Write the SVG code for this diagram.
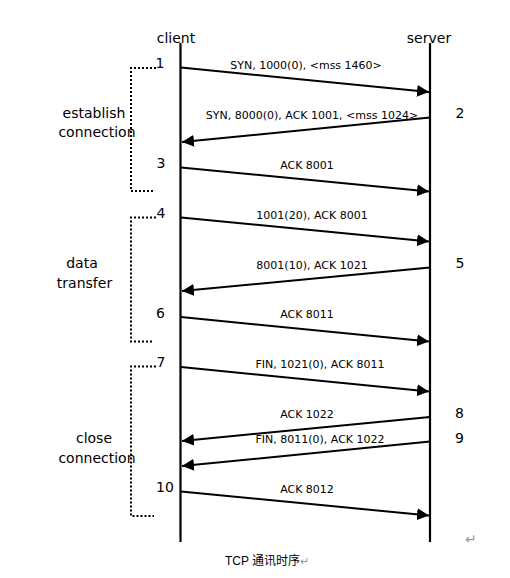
<svg xmlns="http://www.w3.org/2000/svg" width="510" height="578" viewBox="0 0 510 578">
<style>
text{font-family:"DejaVu Sans","Noto Sans",sans-serif;fill:#000}
.hdr{font-size:14px;text-anchor:middle}
.num{font-size:14px;text-anchor:middle}
.side{font-size:14px;text-anchor:middle}
.lbl{font-size:11px;text-anchor:middle}
.life{stroke:#000;stroke-width:2.2;fill:none}
.msg{stroke:#000;stroke-width:2;fill:none;marker-end:url(#ah)}
.br{stroke:#000;stroke-width:2;fill:none;stroke-dasharray:2 2}
.cap{font-family:"Liberation Sans","Noto Sans CJK SC",sans-serif;font-size:12px}
.ret{font-family:"DejaVu Sans",sans-serif;font-size:11px;fill:#999}
.ret2{font-family:"DejaVu Sans",sans-serif;font-size:14px;fill:#999}
</style>
<defs>
<marker id="ah" markerUnits="userSpaceOnUse" markerWidth="12" markerHeight="12" refX="12" refY="6" orient="auto">
<path d="M0,0 L12,6 L0,12 z" fill="#000"/>
</marker>
</defs>
<rect width="510" height="578" fill="#fff"/>
<g id="client">
<text class="hdr" x="176" y="43">client</text>
<line class="life" x1="180.5" y1="43" x2="180.5" y2="542"/>
</g>
<g id="server">
<text class="hdr" x="429" y="43">server</text>
<line class="life" x1="430" y1="43" x2="430" y2="542"/>
</g>
<g id="phase-establish">
<polyline class="br" points="156,68 131,68 131,191 154,191"/>
<text class="side" x="94" y="118">establish</text>
<text class="side" x="97" y="137">connection</text>
</g>
<g id="phase-data">
<polyline class="br" points="156,217.5 131,217.5 131,341.5 154,341.5"/>
<text class="side" x="82" y="268">data</text>
<text class="side" x="84.5" y="288">transfer</text>
</g>
<g id="phase-close">
<polyline class="br" points="156,366.5 131,366.5 131,516 154,516"/>
<text class="side" x="94" y="443">close</text>
<text class="side" x="97" y="463">connection</text>
</g>
<g id="numbers">
<text class="num" x="160" y="68">1</text>
<text class="num" x="460" y="118">2</text>
<text class="num" x="161" y="168">3</text>
<text class="num" x="161" y="218">4</text>
<text class="num" x="460" y="268">5</text>
<text class="num" x="160.5" y="318">6</text>
<text class="num" x="161" y="367">7</text>
<text class="num" x="459.5" y="418">8</text>
<text class="num" x="459.5" y="443">9</text>
<text class="num" x="165" y="492">10</text>
</g>
<g id="connectors">
<line class="msg" x1="181" y1="67.5" x2="429" y2="92"/>
<line class="msg" x1="430" y1="117.5" x2="182" y2="142"/>
<line class="msg" x1="181" y1="167.5" x2="429" y2="191.5"/>
<line class="msg" x1="181" y1="217.5" x2="429" y2="241.5"/>
<line class="msg" x1="430" y1="267.5" x2="182" y2="291"/>
<line class="msg" x1="181" y1="317" x2="429" y2="341.5"/>
<line class="msg" x1="181" y1="367" x2="429" y2="391.5"/>
<line class="msg" x1="430" y1="417" x2="182" y2="441"/>
<line class="msg" x1="430" y1="441.5" x2="182" y2="466"/>
<line class="msg" x1="181" y1="491.5" x2="429" y2="515.5"/>
</g>
<g id="labels">
<text class="lbl" x="306" y="69">SYN, 1000(0), &lt;mss 1460&gt;</text>
<text class="lbl" x="312" y="119">SYN, 8000(0), ACK 1001, &lt;mss 1024&gt;</text>
<text class="lbl" x="307" y="169">ACK 8001</text>
<text class="lbl" x="312" y="219">1001(20), ACK 8001</text>
<text class="lbl" x="312" y="269">8001(10), ACK 1021</text>
<text class="lbl" x="307" y="318">ACK 8011</text>
<text class="lbl" x="320" y="368">FIN, 1021(0), ACK 8011</text>
<text class="lbl" x="307" y="418">ACK 1022</text>
<text class="lbl" x="320" y="443">FIN, 8011(0), ACK 1022</text>
<text class="lbl" x="307" y="493">ACK 8012</text>
</g>
<text class="ret2" x="465" y="544">↵</text>
<text class="cap" x="225" y="565">TCP 通讯时序<tspan class="ret">↵</tspan></text>
</svg>
